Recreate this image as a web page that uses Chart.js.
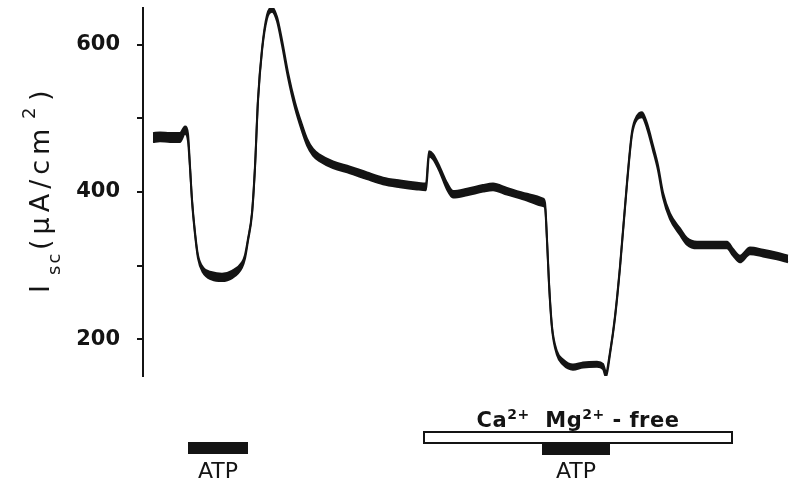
<!DOCTYPE html>
<html>
<head>
<meta charset="utf-8">
<script src="https://cdn.jsdelivr.net/npm/chart.js@4/dist/chart.umd.min.js"></script>
<style>
  html, body { margin: 0; padding: 0; background: #fff; }
  #wrap { width: 800px; height: 489px; position: relative; }
</style>
</head>
<body>
<div id="wrap"><canvas id="chart"></canvas></div>
<script>
// Time axis in arbitrary units (trace recording, no x axis drawn)
const timePoints = [
  1.0, 1.7, 2.7, 3.7, 4.2, 4.5, 4.7, 4.9, 5.2, 5.5,
  6.0, 6.9, 7.9, 8.9, 9.9, 10.2, 10.5, 10.9, 11.2, 11.5,
  11.9, 12.4, 12.9, 13.4, 13.9, 14.5, 15.2, 15.9, 16.4, 17.0,
  17.7, 19.0, 20.7, 22.4, 24.0, 25.7, 27.4, 28.3, 28.6, 29.0,
  29.7, 30.4, 31.0, 32.4, 34.0, 35.0, 36.4, 38.4, 40.0, 40.2,
  40.4, 40.6, 40.9, 41.4, 42.0, 43.0, 44.0, 45.4, 46.0, 46.3,
  46.7, 47.2, 47.7, 48.4, 48.9, 49.4, 49.9, 50.4, 51.0, 51.5,
  52.0, 52.7, 53.7, 54.4, 55.4, 57.0, 58.4, 59.0, 59.7, 60.7,
  62.0, 63.4, 64.5
];

// Short-circuit current Isc (uA/cm2), middle of the noisy trace
const iscValues = [
  474, 475, 474, 474, 484, 474, 434, 389, 344, 312,
  294, 286, 284, 288, 301, 312, 335, 371, 434, 525,
  593, 638, 648, 635, 603, 559, 518, 487, 468, 454,
  446, 437, 430, 422, 415, 411, 408, 407, 452, 448,
  430, 408, 397, 400, 405, 407, 401, 393, 386, 382,
  335, 276, 216, 181, 169, 162, 165, 166, 163, 152,
  181, 230, 298, 412, 480, 501, 505, 490, 460, 433,
  396, 367, 346, 333, 328, 328, 328, 318, 309, 320,
  317, 313, 309
];

// Half-height of the noise band around the trace (uA/cm2)
const noiseBand = [
  6, 6, 6, 6, 5, 5, 1.5, 1.5, 1.5, 2,
  3.5, 5, 5, 5, 3.5, 2.5, 1.5, 1.5, 1.5, 1.5,
  1.5, 2.5, 3, 3, 3.5, 3.5, 4, 4.5, 4.5, 4.5,
  4.5, 4.5, 4.5, 4.5, 4.5, 4.5, 4.5, 4.5, 3.5, 3.5,
  3.5, 4.5, 4.5, 4.5, 4.5, 4.5, 4.5, 4.5, 5, 3.5,
  1.5, 1.5, 1.5, 2.5, 3.5, 3.5, 3.5, 3.5, 3.5, 3.5,
  1.5, 1.5, 1.5, 1.5, 2, 2.5, 3.5, 3.5, 3.5, 3.5,
  3.5, 4, 4.5, 4.5, 4.5, 4.5, 4.5, 4.5, 4.5, 4.5,
  4.5, 4.5, 4.5
];

// Y axis
const yTicks = [200, 300, 400, 500, 600];
const yLabelled = [200, 400, 600];

// Treatment bars under the trace (same time units)
const atpPeriods = [[4.5, 10.5], [39.9, 46.7]];
const freePeriod = [28.1, 58.9];
const atpLabel = 'ATP';

const traceUpper = iscValues.map((v, i) => ({ x: timePoints[i], y: v + noiseBand[i] }));
const traceLower = iscValues.map((v, i) => ({ x: timePoints[i], y: v - noiseBand[i] }));

const INK = '#141414';

/**
 * Draws text pieces one after the other (for sub/superscripts).
 */
function drawPieces(ctx, pieces, x, y, weight) {
  pieces.forEach(p => {
    ctx.font = `${weight} ${p.size}px "DejaVu Sans"`;
    ctx.fillText(p.t, x, y + p.dy);
    x += ctx.measureText(p.t).width;
  });
}

function piecesWidth(ctx, pieces, weight) {
  let w = 0;
  pieces.forEach(p => {
    ctx.font = `${weight} ${p.size}px "DejaVu Sans"`;
    w += ctx.measureText(p.t).width;
  });
  return w;
}

/**
 * Draws the rotated y title and the ATP / Ca-Mg-free bars below the trace.
 */
const annotations = {
  id: 'annotations',
  afterDraw(chart) {
    const ctx = chart.ctx;
    const xs = chart.scales.x;
    const base = chart.chartArea.bottom;

    // y axis title: I_sc (uA/cm^2), reads bottom to top
    ctx.save();
    ctx.translate(49, 0);
    ctx.rotate(-Math.PI / 2);
    ctx.fillStyle = INK;
    ctx.textBaseline = 'alphabetic';
    ctx.textAlign = 'left';
    if ('letterSpacing' in ctx) ctx.letterSpacing = '2px';
    drawPieces(ctx, [{ t: 'I', size: 27, dy: 0 }], -293, 0, 'normal');
    drawPieces(ctx, [{ t: 'sc', size: 18, dy: 11 }], -275, 0, 'normal');
    if ('letterSpacing' in ctx) ctx.letterSpacing = '5px';
    drawPieces(ctx, [{ t: '(\u03bcA/cm', size: 27, dy: 0 }], -250, 0, 'normal');
    drawPieces(ctx, [{ t: '2', size: 18, dy: -14 }], -119, 0, 'normal');
    drawPieces(ctx, [{ t: ')', size: 27, dy: 0 }], -101, 0, 'normal');
    ctx.restore();

    ctx.save();
    ctx.fillStyle = INK;
    ctx.strokeStyle = INK;

    // Ca2+ Mg2+ - free (open bar)
    const fx0 = xs.getPixelForValue(freePeriod[0]);
    const fx1 = xs.getPixelForValue(freePeriod[1]);
    ctx.fillStyle = '#fff';
    ctx.fillRect(fx0, base + 56, fx1 - fx0, 11);
    ctx.lineWidth = 2;
    ctx.strokeRect(fx0, base + 56, fx1 - fx0, 11);

    ctx.fillStyle = INK;
    ctx.textBaseline = 'alphabetic';
    ctx.textAlign = 'left';
    if ('letterSpacing' in ctx) ctx.letterSpacing = '0.5px';
    const freeText = [
      { t: 'Ca', size: 21, dy: 0 },
      { t: '2+', size: 14, dy: -8 },
      { t: '  Mg', size: 21, dy: 0 },
      { t: '2+', size: 14, dy: -8 },
      { t: ' - free', size: 21, dy: 0 }
    ];
    const mid = (fx0 + fx1) / 2;
    const tw = piecesWidth(ctx, freeText, 'bold');
    drawPieces(ctx, freeText, mid - tw / 2, base + 51, 'bold');

    // ATP bars with labels
    if ('letterSpacing' in ctx) ctx.letterSpacing = '0px';
    atpPeriods.forEach((p, i) => {
      const a = xs.getPixelForValue(p[0]);
      const b = xs.getPixelForValue(p[1]);
      const top = i === 0 ? base + 66 : base + 67;
      ctx.fillRect(a, top, b - a, 12);
      ctx.font = '22px "DejaVu Sans"';
      ctx.textAlign = 'center';
      ctx.fillText(atpLabel, (a + b) / 2, base + 102);
    });
    ctx.restore();
  }
};

const ctx = document.getElementById('chart').getContext('2d');
new Chart(ctx, {
  type: 'line',
  data: {
    datasets: [
      {
        label: 'upper',
        data: traceUpper,
        borderColor: INK,
        borderWidth: 2,
        pointRadius: 0,
        cubicInterpolationMode: 'monotone',
        fill: false
      },
      {
        label: 'lower',
        data: traceLower,
        borderColor: INK,
        backgroundColor: INK,
        borderWidth: 2,
        pointRadius: 0,
        cubicInterpolationMode: 'monotone',
        fill: '-1'
      }
    ]
  },
  options: {
    responsive: true,
    maintainAspectRatio: false,
    animation: false,
    layout: { padding: { left: 0, right: 5, top: 8, bottom: 113 } },
    plugins: {
      legend: { display: false },
      tooltip: { enabled: false }
    },
    scales: {
      x: {
        type: 'linear',
        min: 0,
        max: 65.2,
        display: false
      },
      y: {
        min: 150,
        max: 650,
        border: { display: true, color: INK, width: 2 },
        grid: {
          drawOnChartArea: false,
          drawTicks: true,
          tickLength: 6,
          color: INK,
          lineWidth: 2
        },
        ticks: {
          color: INK,
          padding: 17,
          font: { family: 'DejaVu Sans', size: 21, weight: 'bold' },
          callback: v => (yLabelled.includes(v) ? String(v) : '')
        },
        afterBuildTicks: axis => { axis.ticks = yTicks.map(v => ({ value: v })); },
        afterFit: axis => {
          axis.width = 143;
          axis.paddingTop = 0;
          axis.paddingBottom = 0;
        }
      }
    }
  },
  plugins: [annotations]
});
</script>
</body>
</html>
